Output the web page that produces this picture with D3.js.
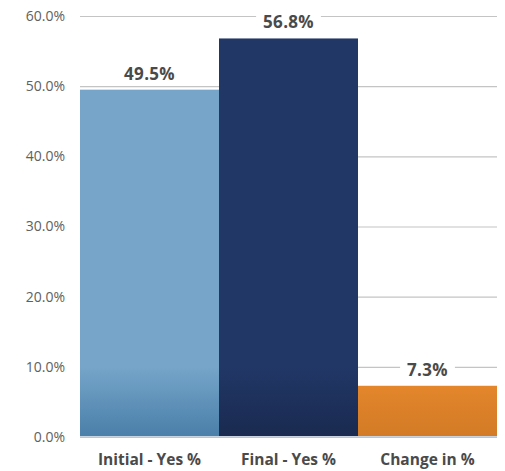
<!DOCTYPE html>
<html>
<head>
<meta charset="utf-8">
<script src="https://cdn.jsdelivr.net/npm/d3@7"></script>
<style>
  html, body { margin: 0; padding: 0; background: #fff; }
  svg { display: block; }
</style>
</head>
<body>
<svg id="chart" width="505" height="471"></svg>
<script>
// Survey response shares
const categories = ["Initial - Yes %", "Final - Yes %", "Change in %"];
const values = [49.5, 56.8, 7.3];
const tickValues = [0, 10, 20, 30, 40, 50, 60];
const barColors = [
  { top: "#76a5c9", bottom: "#4a7fa9" },
  { top: "#213766", bottom: "#1a2a50" },
  { top: "#ea8b2e", bottom: "#d27a26" }
];

const svg = d3.select("#chart");
const margin = { left: 80, right: 8, top: 16, bottom: 34 };
const W = 505, H = 471;

const x = d3.scaleBand()
  .domain(categories)
  .range([margin.left, W - margin.right])
  .paddingInner(0)
  .paddingOuter(0);

const y = d3.scaleLinear()
  .domain([0, 60])
  .range([H - margin.bottom, margin.top]);

// Gradients: flat colour down to about the 10% line, darker toward the base
const defs = svg.append("defs");
barColors.forEach((c, i) => {
  const g = defs.append("linearGradient")
    .attr("id", "grad" + i)
    .attr("gradientUnits", "userSpaceOnUse")
    .attr("x1", 0).attr("x2", 0)
    .attr("y1", y(10)).attr("y2", y(0));
  g.append("stop").attr("offset", "0%").attr("stop-color", c.top);
  g.append("stop").attr("offset", "100%").attr("stop-color", c.bottom);
});

// Gridlines and y labels
const yAxis = d3.axisLeft(y)
  .tickValues(tickValues)
  .tickFormat(d => d.toFixed(1) + "%")
  .tickSize(-(W - margin.right - margin.left))
  .tickPadding(15);

const gy = svg.append("g")
  .attr("transform", `translate(${margin.left},0)`)
  .call(yAxis);
gy.select(".domain").remove();
gy.selectAll(".tick line")
  .attr("stroke", "#c4c4c4")
  .attr("stroke-width", 1.2);
gy.selectAll(".tick text")
  .attr("fill", "#606060")
  .style("font-family", "'Open Sans', sans-serif")
  .style("font-size", "14px");

// Bars
svg.append("g").selectAll("rect")
  .data(values)
  .join("rect")
  .attr("x", (d, i) => x(categories[i]))
  .attr("y", d => y(d))
  .attr("width", x.bandwidth())
  .attr("height", d => y(0) - y(d))
  .attr("fill", (d, i) => `url(#grad${i})`);

// Baseline
svg.append("line")
  .attr("x1", margin.left).attr("x2", W - margin.right)
  .attr("y1", y(0) - 0.5).attr("y2", y(0) - 0.5)
  .attr("stroke", "#c9d3e0")
  .attr("stroke-width", 1.2);

// Value labels with white backing
const labels = svg.append("g").selectAll("g")
  .data(values)
  .join("g")
  .attr("transform", (d, i) => `translate(${x(categories[i]) + x.bandwidth() / 2},${y(d) - 16})`);

labels.append("text")
  .attr("text-anchor", "middle")
  .attr("dy", "0.35em")
  .attr("fill", "#4a4a4a")
  .style("font-family", "'Open Sans', sans-serif")
  .style("font-weight", "700")
  .style("font-size", "17px")
  .style("letter-spacing", "0.3px")
  .text(d => d.toFixed(1) + "%");

labels.each(function() {
  const g = d3.select(this);
  const bb = g.select("text").node().getBBox();
  g.insert("rect", "text")
    .attr("x", bb.x - 7)
    .attr("y", bb.y + 2)
    .attr("width", bb.width + 14)
    .attr("height", bb.height - 4)
    .attr("fill", "#fff");
});

// Category labels
svg.append("g").selectAll("text")
  .data(categories)
  .join("text")
  .attr("x", d => x(d) + x.bandwidth() / 2)
  .attr("y", 460)
  .attr("dy", "0.35em")
  .attr("text-anchor", "middle")
  .attr("fill", "#4a4a4a")
  .style("font-family", "'Open Sans', sans-serif")
  .style("font-weight", "700")
  .style("font-size", "15.5px")
  .text(d => d);
</script>
</body>
</html>
